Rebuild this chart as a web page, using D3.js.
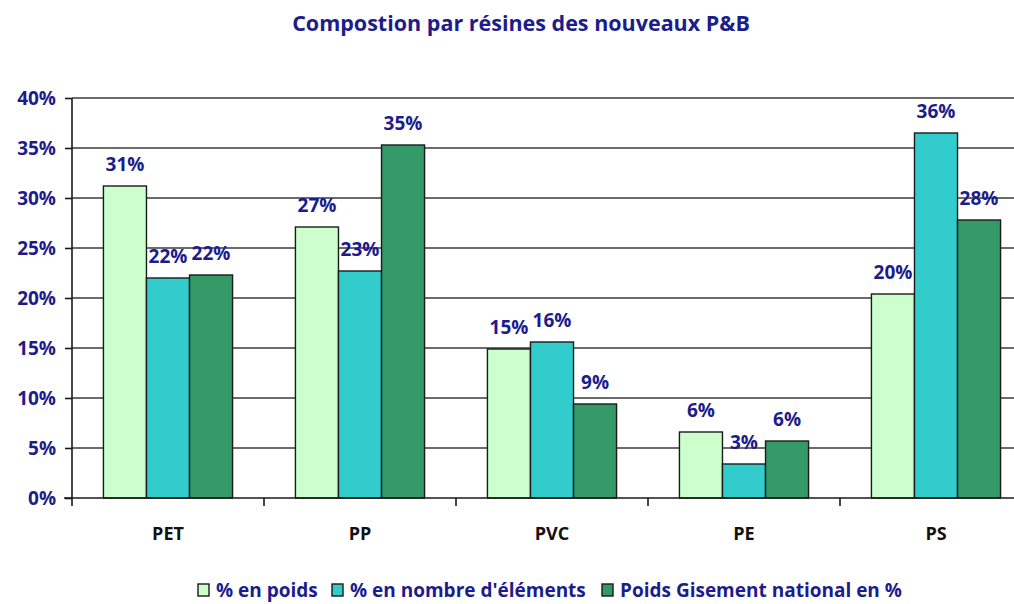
<!DOCTYPE html>
<html><head><meta charset="utf-8">
<script src="https://cdn.jsdelivr.net/npm/d3@7"></script>
<style>body{margin:0;background:#fff;} svg{display:block;}</style>
</head><body>
<svg id="c" width="1014" height="604"></svg>
<script>
const title = "Compostion par résines des nouveaux P&B";
const categories = ["PET","PP","PVC","PE","PS"];
const seriesNames = ["% en poids","% en nombre d'éléments","Poids Gisement national en %"];
const seriesColors = ["#ccffcc","#33cccc","#339966"];
const poids = [31.2, 27.1, 14.9, 6.6, 20.4];
const nombre = [22.0, 22.7, 15.6, 3.4, 36.5];
const gisement = [22.3, 35.3, 9.4, 5.7, 27.8];
const labelsPoids = ["31%","27%","15%","6%","20%"];
const labelsNombre = ["22%","23%","16%","3%","36%"];
const labelsGisement = ["22%","35%","9%","6%","28%"];
const yTicks = [0,5,10,15,20,25,30,35,40];

const series = [poids, nombre, gisement];
const labels = [labelsPoids, labelsNombre, labelsGisement];
const svg = d3.select("#c");
const font = "'Open Sans', sans-serif";
const navy = "#1c1c8c";

const x0 = d3.scaleBand().domain(categories).range([72, 1032]).paddingInner(0).paddingOuter(0);
const x1 = d3.scaleBand().domain([0,1,2]).range([0, x0.bandwidth()]).paddingOuter(0.73).paddingInner(0);
const y = d3.scaleLinear().domain([0,40]).range([498, 98]);

// gridlines
svg.append("g").selectAll("line").data(yTicks.filter(d=>d>0)).join("line")
  .attr("x1",72).attr("x2",1014).attr("y1",d=>y(d)).attr("y2",d=>y(d))
  .attr("stroke","#3a3a3a").attr("stroke-width",1.6);

// bars
const g = svg.append("g");
categories.forEach((c,i)=>{
  series.forEach((s,j)=>{
    g.append("rect").attr("x",x0(c)+x1(j)).attr("y",y(s[i]))
     .attr("width",x1.bandwidth()).attr("height",y(0)-y(s[i]))
     .attr("fill",seriesColors[j]).attr("stroke","#1a1a1a").attr("stroke-width",1.4);
    g.append("text").attr("x",x0(c)+x1(j)+x1.bandwidth()/2).attr("y",y(s[i])-15)
     .attr("text-anchor","middle").attr("font-family",font).attr("font-weight","bold")
     .attr("font-size",19).attr("fill",navy).text(labels[j][i]);
  });
});

// y axis
const ya = d3.axisLeft(y).tickValues(yTicks).tickSize(7).tickFormat(d=>d+"%");
const yg = svg.append("g").attr("transform","translate(72,0)").call(ya);
yg.select(".domain").attr("stroke","#1a1a1a").attr("stroke-width",1.6).attr("d","M0,98V506");
yg.selectAll(".tick line").attr("stroke","#1a1a1a").attr("stroke-width",1.6);
yg.selectAll(".tick text").attr("font-family",font).attr("font-weight","bold").attr("font-size",19)
  .attr("fill",navy).attr("x",-16).attr("dy","0.36em");

// x axis
svg.append("line").attr("x1",64).attr("x2",1014).attr("y1",y(0)).attr("y2",y(0))
  .attr("stroke","#1a1a1a").attr("stroke-width",1.6);
svg.append("g").selectAll("line").data(categories).join("line")
  .attr("x1",d=>x0(d)+x0.bandwidth()).attr("x2",d=>x0(d)+x0.bandwidth())
  .attr("y1",y(0)).attr("y2",y(0)+8).attr("stroke","#1a1a1a").attr("stroke-width",1.6);
svg.append("g").selectAll("text").data(categories).join("text")
  .attr("x",d=>x0(d)+x0.bandwidth()/2).attr("y",540).attr("text-anchor","middle")
  .attr("font-family",font).attr("font-weight","bold").attr("font-size",18).attr("fill","#111")
  .text(d=>d);

// title
svg.append("text").attr("x",521).attr("y",31).attr("text-anchor","middle")
  .attr("font-family",font).attr("font-weight","bold").attr("font-size",21.5).attr("fill",navy).text(title);

// legend
const legX = [198, 332, 602];
const lg = svg.append("g");
seriesNames.forEach((n,j)=>{
  lg.append("rect").attr("x",legX[j]).attr("y",584).attr("width",11).attr("height",12)
    .attr("fill",seriesColors[j]).attr("stroke","#1a1a1a").attr("stroke-width",1.4);
  lg.append("text").attr("x",legX[j]+18).attr("y",597).attr("font-family",font).attr("font-weight","bold")
    .attr("font-size",19).attr("fill",navy).text(n);
});
</script>
</body></html>
